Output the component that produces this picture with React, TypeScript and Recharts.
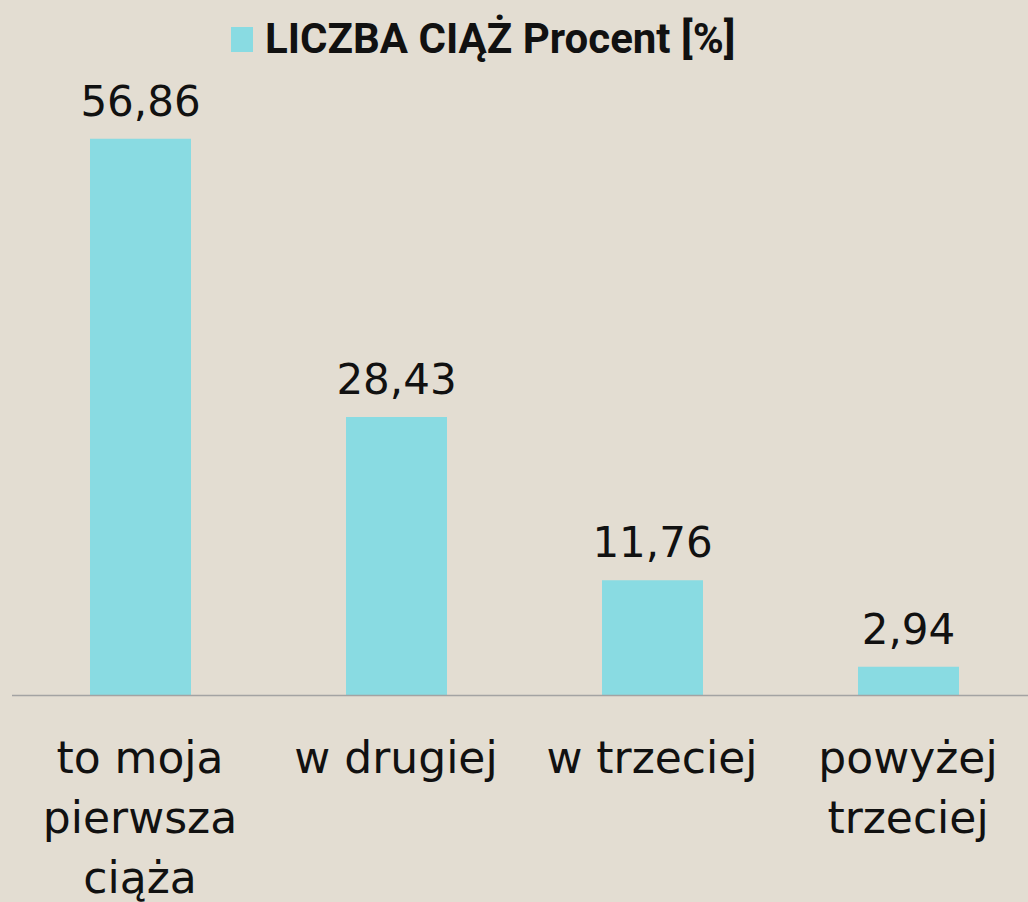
import { BarChart, Bar, XAxis, YAxis, Legend, LabelList } from "recharts";

// category labels, "\n" marks where the original wraps
const categories = ["to moja\npierwsza\nciąża", "w drugiej", "w trzeciej", "powyżej\ntrzeciej"];
const values = [56.86, 28.43, 11.76, 2.94];
const seriesName = "LICZBA CIĄŻ Procent [%]";

const BG = "#E3DDD2";
const BAR = "#89DBE2";
const INK = "#111111";

const data = categories.map((name, i) => ({ name, value: values[i] }));

const fmt = (v: number) => v.toFixed(2).replace(".", ",");

function WrappedTick({ x, y, payload }: any) {
  const lines = String(payload.value).split("\n");
  return (
    <text x={x} y={y} textAnchor="middle" fill={INK} fontFamily="DejaVu Sans" fontSize={44}>
      {lines.map((line, i) => (
        <tspan key={i} x={x} dy={i === 0 ? 77.5 : 60}>
          {line}
        </tspan>
      ))}
    </text>
  );
}

function TitleLegend() {
  return (
    <div style={{ display: "flex", alignItems: "center", fontFamily: "Roboto", fontWeight: 700, fontSize: 42, lineHeight: "42px", color: INK }}>
      <span style={{ display: "inline-block", width: 22, height: 25, background: BAR, marginRight: 12 }} />
      <span>{seriesName}</span>
    </div>
  );
}

export default function App() {
  return (
    <div style={{ position: "absolute", left: 0, top: 0, width: 1028, height: 902, overflow: "hidden", background: BG }}>
      <BarChart width={1040} height={902} data={data} margin={{ top: 108, right: 4, bottom: 0, left: 12 }}>
        <XAxis
          dataKey="name"
          height={206.5}
          interval={0}
          tickLine={false}
          tickSize={0}
          tickMargin={0}
          axisLine={{ stroke: "#A3A3A3", strokeWidth: 1.5 }}
          tick={<WrappedTick />}
        />
        <YAxis hide domain={[0, 60]} />
        <Legend
          verticalAlign="middle"
          layout="horizontal"
          content={<TitleLegend />}
          wrapperStyle={{ top: 18, left: 231, width: "auto" }}
        />
        <Bar dataKey="value" name={seriesName} fill={BAR} barSize={101} isAnimationActive={false}>
          <LabelList
            dataKey="value"
            position="top"
            offset={23}
            formatter={(v: any) => fmt(Number(v))}
            fill={INK}
            fontFamily="DejaVu Sans"
            fontSize={42}
          />
        </Bar>
      </BarChart>
    </div>
  );
}
